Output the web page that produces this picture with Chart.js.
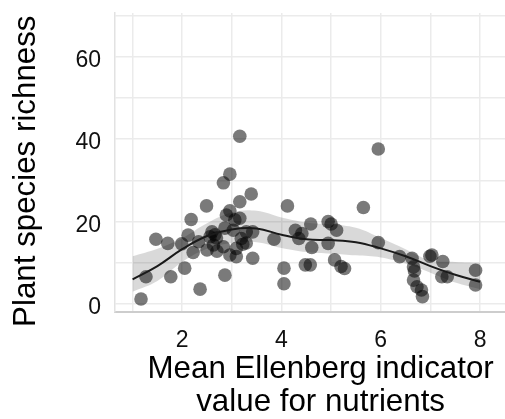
<!DOCTYPE html>
<html>
<head>
<meta charset="utf-8">
<script src="https://cdn.jsdelivr.net/npm/chart.js@4/dist/chart.umd.min.js"></script>
<style>
  html, body { margin: 0; padding: 0; background: #fff; overflow: hidden; }
  #wrap { width: 533px; height: 419px; }
</style>
</head>
<body>
<div id="wrap"><canvas id="c" width="533" height="419"></canvas></div>
<script>
// Plot-level observations: mean Ellenberg N value vs. species richness
const nutrientValue = [1.17,1.27,1.47,1.71,1.77,1.99,2.05,2.18,2.12,2.22,2.36,2.49,2.33,2.50,2.56,2.60,2.63,2.66,2.69,2.70,2.83,2.96,2.86,2.83,2.86,2.89,2.96,2.96,3.03,3.06,3.09,3.09,3.16,3.16,3.16,3.19,3.22,3.29,3.29,3.39,3.42,3.42,3.85,4.05,4.05,4.12,4.28,4.35,4.41,4.48,4.58,4.59,4.61,4.94,5.00,5.11,4.94,5.07,5.20,5.27,5.65,5.95,5.95,6.38,6.63,6.66,6.68,6.66,6.73,6.82,6.84,6.99,7.03,7.25,7.23,7.34,7.91,7.91];
const speciesRichness = [1.2,6.6,15.7,14.7,6.6,14.6,8.7,20.5,16.7,12.5,3.6,23.8,15.1,13.1,16.3,17.5,14.3,16.8,16.0,12.8,29.4,31.5,7.0,13.9,18.4,21.6,22.6,11.9,17.9,20.4,13.5,11.5,40.7,24.8,20.8,15.9,14.5,17.5,14.8,26.7,17.5,11.1,15.7,8.7,4.9,23.8,17.9,15.9,17.1,9.5,9.5,19.4,13.7,20.0,19.4,17.9,14.7,10.7,9.1,8.6,23.4,37.6,14.9,11.5,11.1,9.0,8.0,5.8,4.2,3.4,1.8,11.6,11.9,10.3,6.6,6.6,8.2,4.6];

// Smoothed trend with its confidence band
const fitX     = [1.0, 1.5, 2.0, 2.5, 3.0, 3.5, 4.0, 4.5, 5.0, 5.5, 6.0, 6.5, 7.0, 7.5, 8.0];
const fitY     = [6.0, 9.2, 13.3, 16.5, 18.1, 18.3, 16.8, 15.7, 15.5, 15.0, 13.5, 11.6, 9.2, 7.1, 5.4];
const fitUpper = [11.6, 13.4, 16.0, 19.6, 22.2, 22.6, 21.0, 19.8, 19.3, 18.5, 16.0, 13.3, 10.6, 10.2, 10.0];
const fitLower = [3.0, 5.6, 10.2, 13.4, 14.8, 15.0, 13.6, 12.6, 12.2, 11.8, 11.3, 9.8, 7.6, 5.2, 3.6];

// Labelled ticks
const xTickLabels = [2, 4, 6, 8];
const yTickLabels = [0, 20, 40, 60];

const toXY = (xs, ys) => xs.map((x, i) => ({ x: x, y: ys[i] }));
const FONT = "'Liberation Sans', Arial, sans-serif";

new Chart(document.getElementById('c'), {
  type: 'scatter',
  data: {
    datasets: [
      {
        label: 'fit',
        data: toXY(fitX, fitY),
        showLine: true,
        borderColor: '#1a1a1a',
        borderWidth: 2,
        tension: 0.4,
        pointRadius: 0,
        fill: false,
        order: 0
      },
      {
        label: 'upper',
        data: toXY(fitX, fitUpper),
        showLine: true,
        borderWidth: 0,
        borderColor: 'rgba(0,0,0,0)',
        backgroundColor: 'rgba(0,0,0,0.15)',
        tension: 0.4,
        pointRadius: 0,
        fill: '+1',
        order: 1
      },
      {
        label: 'lower',
        data: toXY(fitX, fitLower),
        showLine: true,
        borderWidth: 0,
        borderColor: 'rgba(0,0,0,0)',
        tension: 0.4,
        pointRadius: 0,
        fill: false,
        order: 1
      },
      {
        label: 'plots',
        data: toXY(nutrientValue, speciesRichness),
        pointRadius: 6.8,
        pointBorderWidth: 0,
        borderWidth: 0,
        backgroundColor: 'rgba(0,0,0,0.52)',
        order: 2
      }
    ]
  },
  options: {
    responsive: false,
    animation: false,
    layout: { padding: { top: 13, left: 0, right: 0, bottom: 0 } },
    plugins: {
      legend: { display: false },
      tooltip: { enabled: false }
    },
    scales: {
      x: {
        type: 'linear',
        min: 0.646,
        max: 8.93,
        afterFit: (s) => { s.height = 107; s.paddingLeft = 0; s.paddingRight = 0; },
        ticks: {
          stepSize: 1,
          includeBounds: false,
          autoSkip: false,
          maxRotation: 0,
          padding: 15,
          color: '#111',
          font: { family: FONT, size: 23 },
          callback: (v) => xTickLabels.includes(v) ? String(v) : ''
        },
        grid: { color: '#ebebeb', lineWidth: 1.5, drawTicks: false },
        border: { display: true, color: '#cdcdcd', width: 2 },
        title: {
          display: true,
          text: ['Mean Ellenberg indicator', 'value for nutrients'],
          color: '#000',
          font: { family: FONT, size: 31.3, lineHeight: 1.05 },
          padding: { top: 0, bottom: 0 }
        }
      },
      y: {
        type: 'linear',
        min: -1.94,
        max: 70.6,
        afterFit: (s) => { s.width = 115; s.paddingTop = 0; s.paddingBottom = 0; },
        ticks: {
          stepSize: 10,
          includeBounds: false,
          padding: 14,
          labelOffset: 4,
          color: '#111',
          font: { family: FONT, size: 23 },
          callback: (v) => yTickLabels.includes(v) ? String(v) : ''
        },
        grid: { color: '#ebebeb', lineWidth: 1.5, drawTicks: false },
        border: { display: true, color: '#e2e2e2', width: 1.5 },
        title: {
          display: true,
          text: 'Plant species richness  ',
          color: '#000',
          font: { family: FONT, size: 31.3, lineHeight: 1.05 },
          padding: { top: 10, bottom: 0 }
        }
      }
    }
  }
});
</script>
</body>
</html>
